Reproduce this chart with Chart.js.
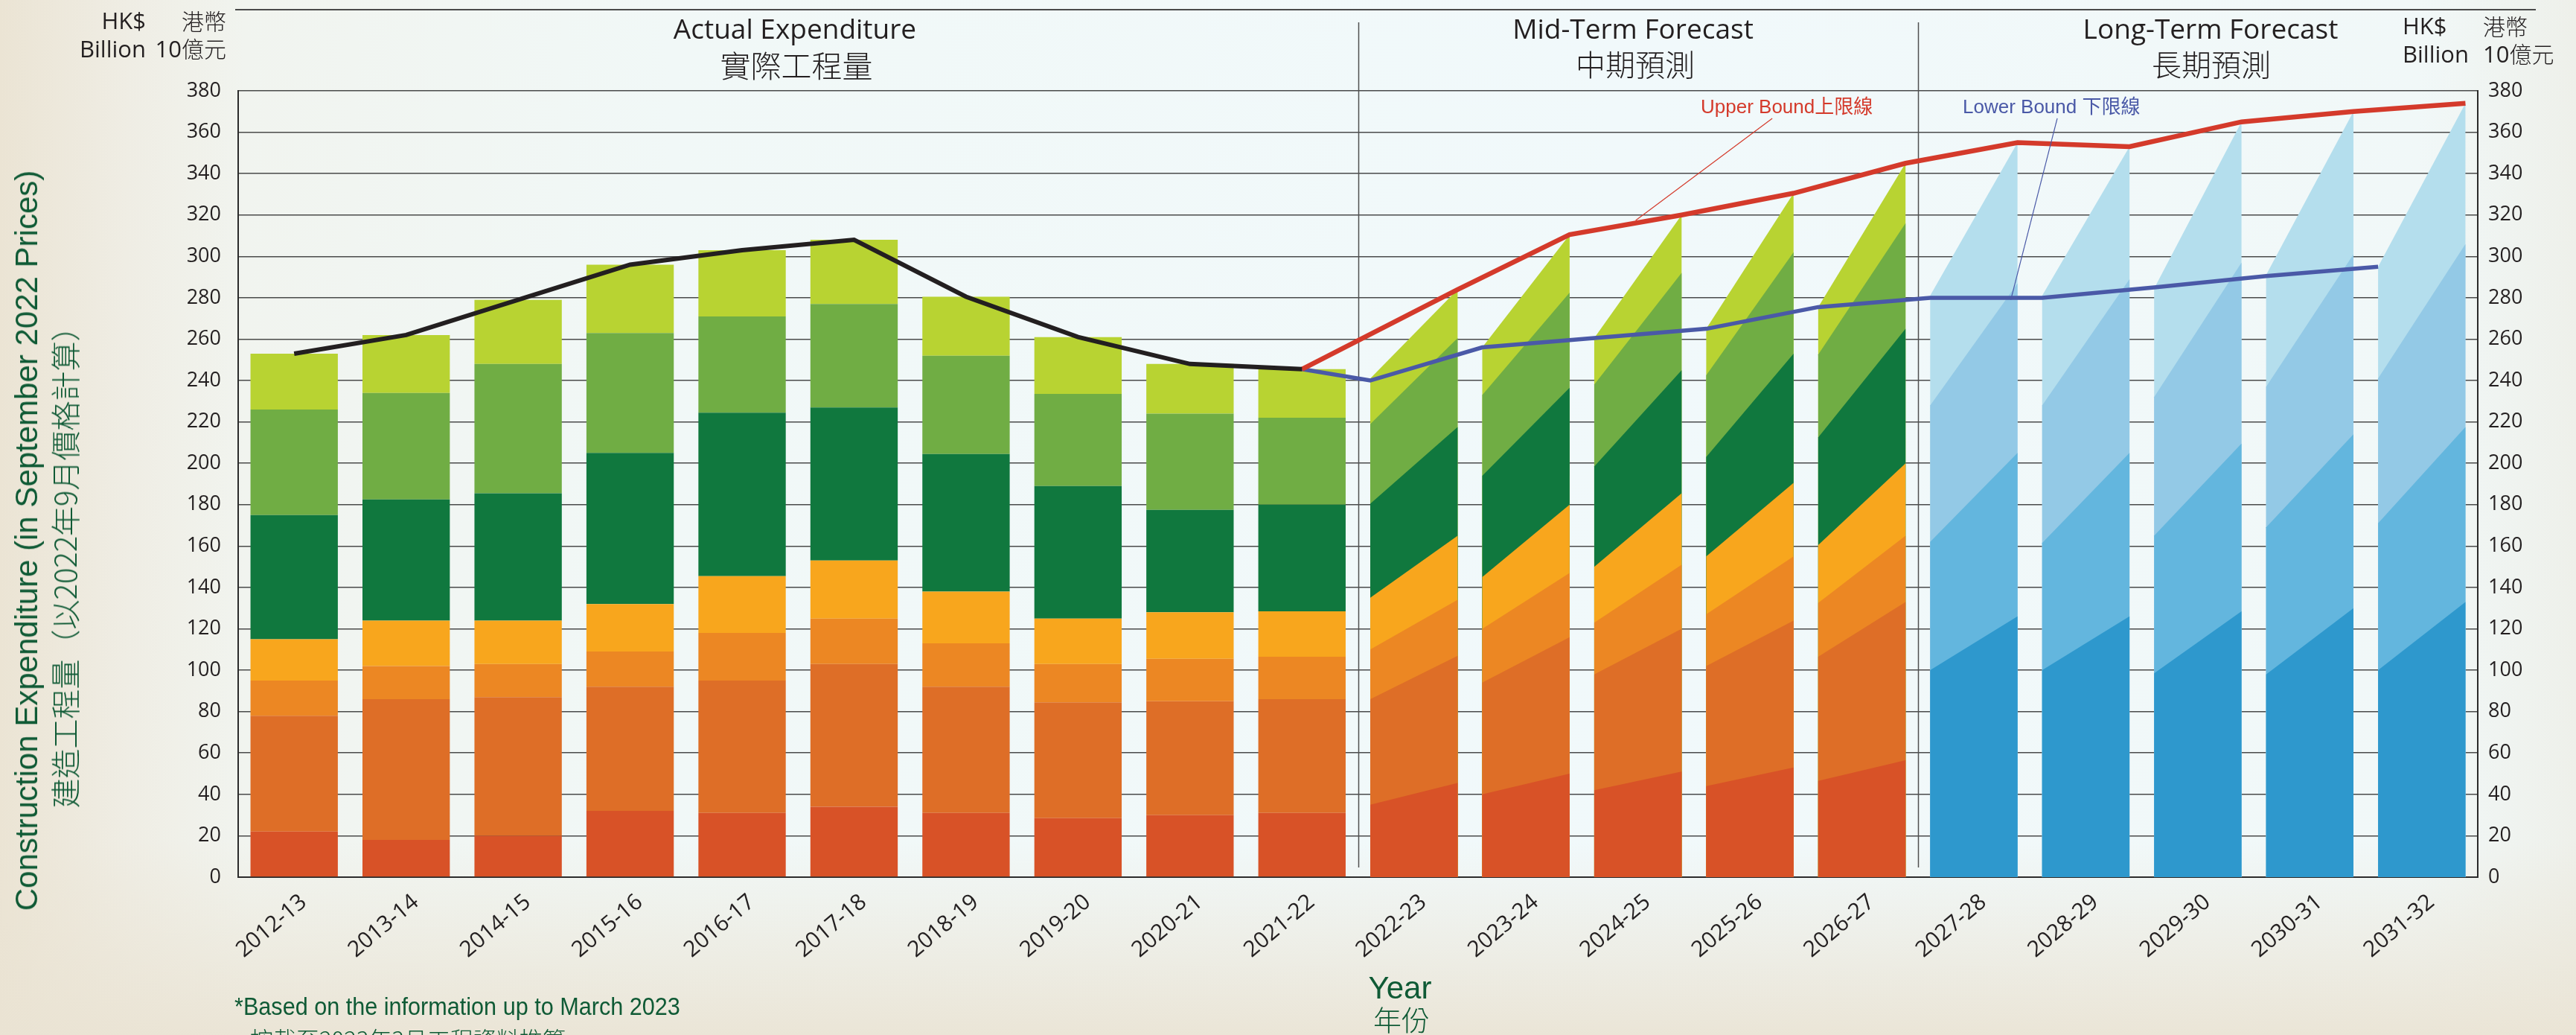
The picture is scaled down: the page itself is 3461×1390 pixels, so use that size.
<!DOCTYPE html>
<html lang="zh-Hant">
<head>
<meta charset="utf-8">
<title>Construction Expenditure</title>
<script src="https://cdn.jsdelivr.net/npm/chart.js@4.4.1/dist/chart.umd.min.js"></script>
<style>
html,body{margin:0;padding:0;}
body{width:3461px;height:1390px;overflow:hidden;position:relative;
background:
 linear-gradient(to top, rgba(234,227,211,0.9) 0px, rgba(234,227,211,0) 260px),
 linear-gradient(to right, #ebe4d4 0px, #efede4 170px, #f1f4ef 330px, #f1f8f7 900px, #f1f9fb 2200px, #f1f8f8 3250px, #eef0ea 3461px);
}
#box{position:absolute;left:0;top:0;width:3461px;height:1390px;}
.t{position:absolute;white-space:nowrap;line-height:1;font-family:"Open Sans","Noto Sans CJK TC",sans-serif;color:#231f20;z-index:2;}
.cjk{font-family:"Noto Sans CJK TC",sans-serif;font-weight:300;}
.ar{font-family:"Liberation Sans",Arial,"Noto Sans CJK TC",sans-serif;}
.c{transform:translate(-50%,-50%);}
.r{transform:translate(-100%,-50%);}
.l{transform:translate(0,-50%);}
.g{color:#0f5a35;}
.rot{transform:translate(-50%,-50%) rotate(-90deg);}
#topline{position:absolute;left:316px;top:12px;width:3091px;height:2px;background:#4a4a4a;z-index:2;}
</style>
</head>
<body>
<div id="box"><canvas id="chart"></canvas></div>
<div id="topline"></div>

<!-- unit headers -->
<div class="t r" style="left:196px;top:27px;font-size:31px;">HK$</div>
<div class="t r cjk" style="left:304px;top:27px;font-size:30px;">港幣</div>
<div class="t r" style="left:196px;top:65px;font-size:31px;">Billion</div>
<div class="t r" style="left:304px;top:65px;font-size:31px;">10<span class="cjk" style="font-size:30px;">億元</span></div>

<div class="t l" style="left:3228px;top:34px;font-size:31px;">HK$</div>
<div class="t l cjk" style="left:3336px;top:34px;font-size:30px;">港幣</div>
<div class="t l" style="left:3228px;top:72px;font-size:31px;">Billion</div>
<div class="t l" style="left:3336px;top:72px;font-size:31px;">10<span class="cjk" style="font-size:30px;">億元</span></div>

<!-- section headers -->
<div class="t c" style="left:1068px;top:37px;font-size:37px;">Actual Expenditure</div>
<div class="t c cjk" style="left:1070px;top:86px;font-size:41px;">實際工程量</div>
<div class="t c" style="left:2194px;top:37px;font-size:37px;">Mid-Term Forecast</div>
<div class="t c cjk" style="left:2197px;top:85px;font-size:40px;">中期預測</div>
<div class="t c" style="left:2970px;top:37px;font-size:37px;">Long-Term Forecast</div>
<div class="t c cjk" style="left:2971px;top:85px;font-size:40px;">長期預測</div>

<!-- bound labels -->
<div class="t l ar" style="left:2285px;top:142px;font-size:26px;color:#d43a2b;">Upper Bound<span class="cjk" style="font-weight:400;">上限線</span></div>
<div class="t l ar" style="left:2637px;top:142px;font-size:26px;color:#4a59a7;">Lower Bound <span class="cjk" style="font-weight:400;">下限線</span></div>

<!-- axis titles -->
<div class="t rot ar g" style="left:36px;top:726px;font-size:42px;">Construction Expenditure (in September 2022 Prices)</div>
<div class="t rot cjk g" style="left:86px;top:752px;font-size:40px;">建造工程量（以2022年9月價格計算）</div>
<div class="t c ar g" style="left:1881px;top:1327px;font-size:42px;">Year</div>
<div class="t c cjk g" style="left:1883px;top:1368px;font-size:38px;">年份</div>

<!-- footnote -->
<div class="t ar g" style="left:315px;top:1334px;font-size:34px;transform:scaleX(0.9);transform-origin:0 0;">*Based on the information up to March 2023</div>
<div class="t cjk g" style="left:336px;top:1379px;font-size:31px;">按截至2023年3月工程資料推算</div>

<script>
// ---------------- DATA ----------------
const years = ['2012-13','2013-14','2014-15','2015-16','2016-17','2017-18','2018-19','2019-20','2020-21','2021-22',
               '2022-23','2023-24','2024-25','2025-26','2026-27','2027-28','2028-29','2029-30','2030-31','2031-32'];
const actualYears = years.slice(0, 10);
const midTermYears = years.slice(10, 15);
const longTermYears = years.slice(15, 20);
const yTicks = [0,20,40,60,80,100,120,140,160,180,200,220,240,260,280,300,320,340,360,380];

// Actual expenditure, stacked segments (HK$ billion), bottom to top
const actRed        = [22, 18, 20, 32, 31, 34, 31, 28.5, 30, 31];
const actDarkOrange = [56, 68, 67, 60, 64, 69, 61, 56, 55, 55];
const actOrange     = [17, 16, 16, 17, 23, 22, 21, 18.5, 20.5, 20.5];
const actYellow     = [20, 22, 21, 23, 27.5, 28, 25, 22, 22.5, 22];
const actDarkGreen  = [60, 58.5, 61.5, 73, 79, 74, 66.5, 64, 49.5, 51.5];
const actMidGreen   = [51, 51.5, 62.5, 58, 46.5, 50, 47.5, 44.5, 46.5, 42];
const actLightGreen = [27, 28, 31, 33, 32, 31, 28.5, 27.5, 24, 23.5];
const actualTotal   = [253, 262, 279, 296, 303, 308, 280.5, 261, 248, 245.5];

// Mid-term forecast segments: lower-bound side (Low) and upper-bound side (High)
const midRedLow         = [35, 40, 42, 44, 46.5];
const midDarkOrangeLow  = [51, 54, 56, 58, 60];
const midOrangeLow      = [24, 26, 25, 25, 26];
const midYellowLow      = [25, 25, 27, 28, 28];
const midDarkGreenLow   = [45.5, 49, 48.5, 48, 52];
const midMidGreenLow    = [38.5, 39, 39.5, 39.5, 40];
const midLightGreenLow  = [22, 23, 22.5, 22.5, 23];

const midRedHigh        = [45.5, 50, 51, 53, 56.5];
const midDarkOrangeHigh = [61.5, 66, 69, 71, 76.5];
const midOrangeHigh     = [27, 31, 31, 31, 32];
const midYellowHigh     = [31, 33, 34.5, 35.5, 35];
const midDarkGreenHigh  = [52.5, 56.5, 59.5, 62.5, 65];
const midMidGreenHigh   = [43, 46, 47, 49, 51];
const midLightGreenHigh = [23.5, 28, 28, 28.5, 29];

// Long-term forecast segments
const longBlue1Low  = [100, 100, 98.5, 98, 100];
const longBlue2Low  = [62, 61.5, 66.5, 71, 71];
const longBlue3Low  = [66, 66.5, 67, 68, 70];
const longBlue4Low  = [53, 53, 52.5, 54, 54];
const longBlue1High = [126, 126, 128.5, 130, 133];
const longBlue2High = [79, 79, 81, 84, 84.5];
const longBlue3High = [82, 84, 87.5, 87, 88.5];
const longBlue4High = [68, 64, 68, 69, 68];

// Bound lines: first value at 2021-22 (last actual), then one per forecast year
const upperBound = [245.5, 284, 310.5, 320, 330.5, 345, 355, 353, 365, 370, 374];
const lowerBound = [245.5, 240, 256, 260.5, 265, 275.5, 280, 280, 285, 290.5, 295];

// ---------------- STYLE / LAYOUT ----------------
const BAR_FRACTION = 0.78;
const HALF = BAR_FRACTION / 2;
const C = {
  red:'#d85227', darkOrange:'#de6e27', orange:'#ec8723', yellow:'#f8a61d',
  darkGreen:'#10783e', midGreen:'#70ad44', lightGreen:'#b8d332',
  blue1:'#2e98cd', blue2:'#63b6de', blue3:'#93c9e6', blue4:'#b4deed'
};
const actualLayers = [
  {data: actRed, color: C.red}, {data: actDarkOrange, color: C.darkOrange},
  {data: actOrange, color: C.orange}, {data: actYellow, color: C.yellow},
  {data: actDarkGreen, color: C.darkGreen}, {data: actMidGreen, color: C.midGreen},
  {data: actLightGreen, color: C.lightGreen}
];
const forecastGroups = [
  {cats: midTermYears, layers: [
    {low: midRedLow, high: midRedHigh, color: C.red},
    {low: midDarkOrangeLow, high: midDarkOrangeHigh, color: C.darkOrange},
    {low: midOrangeLow, high: midOrangeHigh, color: C.orange},
    {low: midYellowLow, high: midYellowHigh, color: C.yellow},
    {low: midDarkGreenLow, high: midDarkGreenHigh, color: C.darkGreen},
    {low: midMidGreenLow, high: midMidGreenHigh, color: C.midGreen},
    {low: midLightGreenLow, high: midLightGreenHigh, color: C.lightGreen}
  ]},
  {cats: longTermYears, layers: [
    {low: longBlue1Low, high: longBlue1High, color: C.blue1},
    {low: longBlue2Low, high: longBlue2High, color: C.blue2},
    {low: longBlue3Low, high: longBlue3High, color: C.blue3},
    {low: longBlue4Low, high: longBlue4High, color: C.blue4}
  ]}
];
// leader lines for bound labels, in axis units [x index, value]
const leaders = [
  {from: [13.2, 366.7], to: [11.98, 317.4], color: '#d43a2b'},
  {from: [15.745, 366.7], to: [15.33, 279], color: '#4a59a7'}
];

const lastActual = actualYears.length - 1;
const forecastStart = actualYears.length;
const upperPts = upperBound.map((v, k) => ({x: k === 0 ? lastActual : forecastStart + k - 1 + HALF, y: v}));
const lowerPts = lowerBound.map((v, k) => ({x: k === 0 ? lastActual : forecastStart + k - 1 - HALF, y: v}));

const forecastPlugin = {
  id: 'forecast',
  beforeDatasetsDraw(chart) {
    const {ctx, scales: {x, y}, chartArea} = chart;
    const half = (x.getPixelForValue(1) - x.getPixelForValue(0)) * BAR_FRACTION / 2;
    ctx.save();
    // section dividers
    ctx.strokeStyle = '#505050';
    ctx.lineWidth = 1.5;
    [forecastStart - 0.5, forecastStart + midTermYears.length - 0.5].forEach(v => {
      const px = Math.round(x.getPixelForValue(v)) + 0.5;
      ctx.beginPath();
      ctx.moveTo(px, 30);
      ctx.lineTo(px, chartArea.bottom - 13);
      ctx.stroke();
    });
    // sloped forecast bars
    forecastGroups.forEach(g => {
      g.cats.forEach((cat, j) => {
        const cx = x.getPixelForValue(years.indexOf(cat));
        let lo = 0, hi = 0;
        const cum = g.layers.map(L => { lo += L.low[j]; hi += L.high[j]; return {lo, hi, color: L.color}; });
        for (let k = cum.length - 1; k >= 0; k--) {
          ctx.beginPath();
          ctx.moveTo(cx - half, y.getPixelForValue(0));
          ctx.lineTo(cx + half, y.getPixelForValue(0));
          ctx.lineTo(cx + half, y.getPixelForValue(cum[k].hi));
          ctx.lineTo(cx - half, y.getPixelForValue(cum[k].lo));
          ctx.closePath();
          ctx.fillStyle = cum[k].color;
          ctx.fill();
        }
      });
    });
    ctx.restore();
  },
  afterDatasetsDraw(chart) {
    const {ctx, scales: {x, y}} = chart;
    ctx.save();
    ctx.lineWidth = 1.2;
    leaders.forEach(l => {
      ctx.strokeStyle = l.color;
      ctx.beginPath();
      ctx.moveTo(x.getPixelForValue(l.from[0]), y.getPixelForValue(l.from[1]));
      ctx.lineTo(x.getPixelForValue(l.to[0]), y.getPixelForValue(l.to[1]));
      ctx.stroke();
    });
    ctx.restore();
  }
};

const barSets = actualLayers.map(L => ({
  type: 'bar', order: 1, stack: 'actual',
  data: L.data.map((v, i) => ({x: i, y: v})),
  backgroundColor: L.color, borderWidth: 0,
  barPercentage: BAR_FRACTION, categoryPercentage: 1
}));
const lineBase = {type: 'line', order: 0, yAxisID: 'y2', pointRadius: 0, tension: 0, fill: false, borderJoinStyle: 'miter'};
const lineSets = [
  {...lineBase, data: actualTotal.map((v, i) => ({x: i, y: v})), borderColor: '#231f20', borderWidth: 6},
  {...lineBase, data: upperPts, borderColor: '#d43a2b', borderWidth: 6.5},
  {...lineBase, data: lowerPts, borderColor: '#4a59a7', borderWidth: 5.5}
];

const tickFont = {family: '"Open Sans", sans-serif', size: 27};
new Chart(document.getElementById('chart'), {
  type: 'bar',
  data: {datasets: [...barSets, ...lineSets]},
  options: {
    responsive: true, maintainAspectRatio: false, animation: false,
    layout: {padding: {top: 122, left: 0, right: 0, bottom: 0}},
    plugins: {legend: {display: false}, tooltip: {enabled: false}},
    scales: {
      x: {
        type: 'linear', min: -0.5, max: years.length - 0.5, offset: false, stacked: true,
        grid: {display: false, drawTicks: false},
        border: {display: true, color: '#2b2b2b', width: 2},
        afterBuildTicks: s => { s.ticks = years.map((_, i) => ({value: i})); },
        afterFit: s => { s.height = 212; },
        ticks: {autoSkip: false, minRotation: 40, maxRotation: 40, padding: 16, labelOffset: 13,
                color: '#231f20', font: {family: '"Open Sans", sans-serif', size: 30},
                callback: v => years[v]}
      },
      y: {
        position: 'left', min: 0, max: 380, stacked: true,
        grid: {color: 'rgba(45,45,45,0.85)', lineWidth: 1.6, drawTicks: false},
        border: {display: true, color: '#2b2b2b', width: 2},
        afterBuildTicks: s => { s.ticks = yTicks.map(v => ({value: v})); },
        afterFit: s => { s.width = 320; },
        ticks: {padding: 23, color: '#231f20', font: tickFont}
      },
      y2: {
        position: 'right', min: 0, max: 380,
        grid: {display: false, drawTicks: false},
        border: {display: true, color: '#2b2b2b', width: 2},
        afterBuildTicks: s => { s.ticks = yTicks.map(v => ({value: v})); },
        afterFit: s => { s.width = 132; },
        ticks: {padding: 14, color: '#231f20', font: tickFont}
      }
    }
  },
  plugins: [forecastPlugin]
});
</script>
</body>
</html>
